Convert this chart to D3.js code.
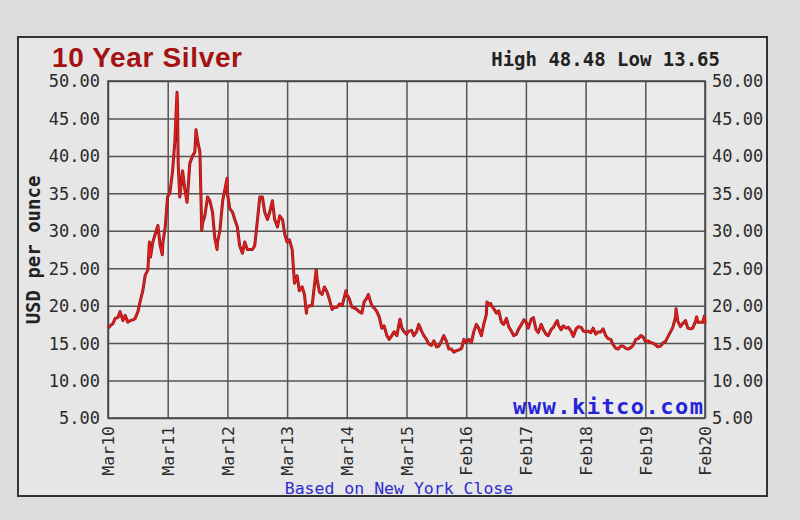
<!DOCTYPE html>
<html><head><meta charset="utf-8">
<script src="https://cdn.jsdelivr.net/npm/d3@7"></script>
<style>
html,body{margin:0;padding:0;background:#dcdcdc;}
svg{display:block;}
</style></head>
<body>
<svg id="chart" width="800" height="520"></svg>
<script>
// ---- data ----
const dates = [
"2010-03-02","2010-03-15","2010-04-01","2010-04-15","2010-05-01","2010-05-15","2010-06-01","2010-06-15","2010-07-01","2010-07-15","2010-08-01","2010-08-15","2010-09-01","2010-09-15","2010-10-01","2010-10-15","2010-11-01","2010-11-10","2010-11-17","2010-12-01","2010-12-15",
"2011-01-01","2011-01-15","2011-01-28","2011-02-01","2011-02-15","2011-03-01","2011-03-15","2011-04-01","2011-04-15","2011-04-28","2011-05-01","2011-05-05","2011-05-15","2011-06-01","2011-06-15","2011-06-28","2011-07-01","2011-07-15","2011-08-01","2011-08-15","2011-08-22","2011-09-01","2011-09-15","2011-09-26","2011-10-01","2011-10-15","2011-11-01","2011-11-15","2011-12-01","2011-12-15","2011-12-29",
"2012-01-01","2012-01-15","2012-02-01","2012-02-28","2012-03-01","2012-03-15","2012-04-01","2012-04-15","2012-05-01","2012-05-15","2012-06-01","2012-06-15","2012-07-01","2012-07-15","2012-08-01","2012-08-15","2012-09-01","2012-09-15","2012-10-01","2012-10-15","2012-11-01","2012-11-15","2012-12-01","2012-12-15",
"2013-01-01","2013-01-15","2013-02-01","2013-02-15","2013-03-01","2013-03-15","2013-04-01","2013-04-15","2013-05-01","2013-05-15","2013-06-01","2013-06-15","2013-06-27","2013-07-01","2013-07-15","2013-08-01","2013-08-26","2013-09-01","2013-09-15","2013-10-01","2013-10-15","2013-11-01","2013-11-15","2013-12-01","2013-12-15",
"2014-01-01","2014-01-15","2014-02-01","2014-02-24","2014-03-01","2014-03-15","2014-04-01","2014-04-15","2014-05-01","2014-05-15","2014-06-01","2014-06-15","2014-07-01","2014-07-10","2014-08-01","2014-08-15","2014-09-01","2014-09-15","2014-10-01","2014-10-15","2014-11-01","2014-11-15","2014-12-01","2014-12-15",
"2015-01-01","2015-01-20","2015-02-01","2015-02-15","2015-03-01","2015-03-15","2015-04-01","2015-04-15","2015-05-01","2015-05-15","2015-06-01","2015-06-15","2015-07-01","2015-07-15","2015-08-01","2015-08-15","2015-09-01","2015-09-15","2015-10-01","2015-10-15","2015-11-01","2015-11-15","2015-12-01","2015-12-15",
"2016-01-01","2016-01-15","2016-02-01","2016-02-15","2016-03-01","2016-03-15","2016-04-01","2016-04-15","2016-05-01","2016-05-15","2016-06-01","2016-06-15","2016-07-01","2016-07-05","2016-07-15","2016-07-28","2016-08-01","2016-08-15","2016-09-01","2016-09-15","2016-10-01","2016-10-15","2016-11-01","2016-11-15","2016-12-01","2016-12-15",
"2017-01-01","2017-01-15","2017-02-01","2017-02-15","2017-03-01","2017-03-15","2017-04-01","2017-04-15","2017-05-01","2017-05-15","2017-06-01","2017-06-15","2017-07-01","2017-07-15","2017-08-01","2017-08-15","2017-09-01","2017-09-08","2017-09-15","2017-10-01","2017-10-15","2017-11-01","2017-11-15","2017-12-01","2017-12-15",
"2018-01-01","2018-01-15","2018-02-01","2018-02-15","2018-03-01","2018-03-15","2018-04-01","2018-04-15","2018-05-01","2018-05-15","2018-06-01","2018-06-15","2018-07-01","2018-07-15","2018-08-01","2018-08-15","2018-09-01","2018-09-15","2018-10-01","2018-10-15","2018-11-01","2018-11-15","2018-12-01","2018-12-15",
"2019-01-01","2019-01-15","2019-02-01","2019-02-15","2019-03-01","2019-03-15","2019-04-01","2019-04-15","2019-05-01","2019-05-15","2019-06-01","2019-06-15","2019-07-01","2019-07-15","2019-08-01","2019-08-15","2019-09-01","2019-09-04","2019-09-15","2019-10-01","2019-10-15","2019-11-01","2019-11-15","2019-12-01","2019-12-15",
"2020-01-01","2020-01-08","2020-01-15","2020-02-01","2020-02-15","2020-02-24","2020-02-28"
];
const prices = [
17.0,17.3,17.6,18.3,18.4,19.2,18.0,18.7,17.8,18.0,18.1,18.3,19.2,20.6,22.0,24.0,24.8,28.5,26.5,28.5,29.5,
30.7,28.0,26.8,28.5,30.5,34.5,35.0,38.0,42.0,48.5,47.0,39.0,34.5,38.0,35.5,33.8,34.5,39.0,40.0,40.5,43.5,42.0,40.5,30.0,31.0,32.0,34.5,34.0,32.5,29.0,27.5,
28.5,30.0,34.0,37.0,35.0,33.0,32.5,31.5,30.5,28.0,27.0,28.5,27.5,27.5,27.5,28.0,31.5,34.5,34.5,32.5,31.5,32.5,34.0,31.5,
30.5,32.0,31.5,29.5,28.5,28.8,27.5,23.0,24.0,22.0,22.5,21.5,19.0,19.8,20.0,20.0,24.8,23.5,21.8,21.5,22.5,21.8,20.8,19.5,19.8,
19.8,20.2,20.0,22.0,21.5,21.0,19.8,19.7,19.5,19.2,19.0,20.5,21.0,21.5,20.0,19.7,19.2,18.5,17.0,17.3,16.0,15.5,16.0,16.5,
16.0,18.2,17.0,16.5,16.2,16.6,16.7,16.0,16.5,17.5,16.6,16.0,15.5,14.9,14.7,15.3,14.5,14.6,15.3,16.0,15.2,14.2,14.2,13.8,
14.0,14.1,14.3,15.5,15.1,15.5,15.1,16.5,17.5,17.0,16.0,17.5,18.8,20.5,20.2,20.3,20.0,19.6,19.0,19.3,17.8,17.5,18.3,17.2,16.6,16.0,
16.2,16.9,17.5,18.1,17.8,17.0,18.2,18.4,16.8,16.4,17.5,16.8,16.2,16.0,16.8,17.1,17.8,18.0,17.4,16.8,17.3,17.0,17.1,16.6,15.9,
16.9,17.2,17.1,16.6,16.5,16.6,16.4,17.0,16.2,16.5,16.5,16.9,16.0,15.6,15.5,14.8,14.3,14.2,14.6,14.6,14.3,14.2,14.4,14.7,
15.5,15.6,16.0,15.8,15.2,15.3,15.1,15.0,14.8,14.5,14.6,15.0,15.2,15.8,16.5,17.1,18.5,19.6,17.9,17.2,17.6,18.0,17.0,16.9,17.0,
17.9,18.5,17.8,17.8,17.8,18.6,17.6
];
const yTicks = [5,10,15,20,25,30,35,40,45,50];
const xTickDates = ["2010-03-02","2011-03-02","2012-03-01","2013-03-01","2014-03-01","2015-03-01","2016-02-29","2017-02-28","2018-02-28","2019-02-28","2020-02-28"];
const xTickLabels = ["Mar10","Mar11","Mar12","Mar13","Mar14","Mar15","Feb16","Feb17","Feb18","Feb19","Feb20"];
const titleText = "10 Year Silver";
const highLowText = "High 48.48 Low 13.65";
const yLabel = "USD per ounce";
const footText = "Based on New York Close";
const brandText = "www.kitco.com";

// ---- drawing ----
const parse = d3.timeParse("%Y-%m-%d");
const series = dates.map((d,i)=>({date:parse(d), value:prices[i]}));
const tickDates = xTickDates.map(parse);

const svg = d3.select("#chart");
const mono = "'DejaVu Sans Mono', monospace";
const L = 108, R = 705, T = 81, B = 418;

// chart frame
svg.append("rect").attr("x",0).attr("y",0).attr("width",800).attr("height",520).attr("fill","#dcdcdc");
svg.append("rect").attr("x",18).attr("y",37).attr("width",749).attr("height",459)
  .attr("fill","#e6e6e6").attr("stroke","#333").attr("stroke-width",2);

const x = d3.scaleTime().domain([tickDates[0], tickDates[tickDates.length-1]]).range([L,R]);
const y = d3.scaleLinear().domain([5,50]).range([B,T]);

svg.append("rect").attr("x",L).attr("y",T).attr("width",R-L).attr("height",B-T).attr("fill","#ebebeb");

// horizontal grid + left labels
const gl = svg.append("g").attr("transform",`translate(${L},0)`)
  .call(d3.axisLeft(y).tickValues(yTicks).tickFormat(d3.format(".2f")).tickSize(-(R-L)).tickPadding(8));
gl.select(".domain").remove();
gl.selectAll(".tick line").attr("stroke","#555").attr("stroke-width",1.5);
gl.selectAll(".tick text").attr("font-family",mono).attr("font-size",17).attr("fill","#2a2a2a").attr("dy","0.35em");

const gr = svg.append("g").attr("transform",`translate(${R},0)`)
  .call(d3.axisRight(y).tickValues(yTicks).tickFormat(d3.format(".2f")).tickSize(0).tickPadding(7));
gr.select(".domain").remove();
gr.selectAll(".tick text").attr("font-family",mono).attr("font-size",17).attr("fill","#2a2a2a").attr("dy","0.35em");

// vertical grid + bottom labels
const gb = svg.append("g").attr("transform",`translate(0,${B})`)
  .call(d3.axisBottom(x).tickValues(tickDates).tickFormat((d,i)=>xTickLabels[i]).tickSize(-(B-T)).tickPadding(0));
gb.select(".domain").remove();
gb.selectAll(".tick line").attr("stroke","#555").attr("stroke-width",1.5);
gb.selectAll(".tick text")
  .attr("font-family",mono).attr("font-size",16.5).attr("fill","#2a2a2a")
  .attr("text-anchor","end").attr("transform","rotate(-90)")
  .attr("x",-8).attr("y",0).attr("dy","0.35em");

// plot border
svg.append("rect").attr("x",L).attr("y",T).attr("width",R-L).attr("height",B-T)
  .attr("fill","none").attr("stroke","#444").attr("stroke-width",1.5);

// price line
const line = d3.line().x(d=>x(d.date)).y(d=>y(d.value));
svg.append("path").datum(series).attr("d",line)
  .attr("fill","none").attr("stroke","#8a1a1a").attr("stroke-width",3).attr("stroke-linejoin","round");
svg.append("path").datum(series).attr("d",line)
  .attr("fill","none").attr("stroke","#e41c1c").attr("stroke-width",1.6).attr("stroke-linejoin","round");

// texts
svg.append("text").attr("x",52).attr("y",67).text(titleText)
  .attr("font-family","'Liberation Sans', Arial, sans-serif").attr("font-weight","bold")
  .attr("font-size",28).attr("fill","#a51212").attr("textLength",190).attr("lengthAdjust","spacing");
svg.append("text").attr("x",720).attr("y",66).attr("text-anchor","end").text(highLowText)
  .attr("font-family",mono).attr("font-weight","bold").attr("font-size",19).attr("fill","#222");
svg.append("text").attr("transform","translate(40,250) rotate(-90)").attr("text-anchor","middle").text(yLabel)
  .attr("font-family",mono).attr("font-weight","bold").attr("font-size",19).attr("fill","#222");
svg.append("text").attr("x",399).attr("y",494).attr("text-anchor","middle").text(footText)
  .attr("font-family",mono).attr("font-size",16.5).attr("fill","#2b2bd0");
svg.append("text").attr("x",703).attr("y",414).attr("text-anchor","end").text(brandText)
  .attr("font-family",mono).attr("font-weight","bold").attr("font-size",22).attr("fill","#2424d8")
  .attr("textLength",190).attr("lengthAdjust","spacing");
</script>
</body></html>
